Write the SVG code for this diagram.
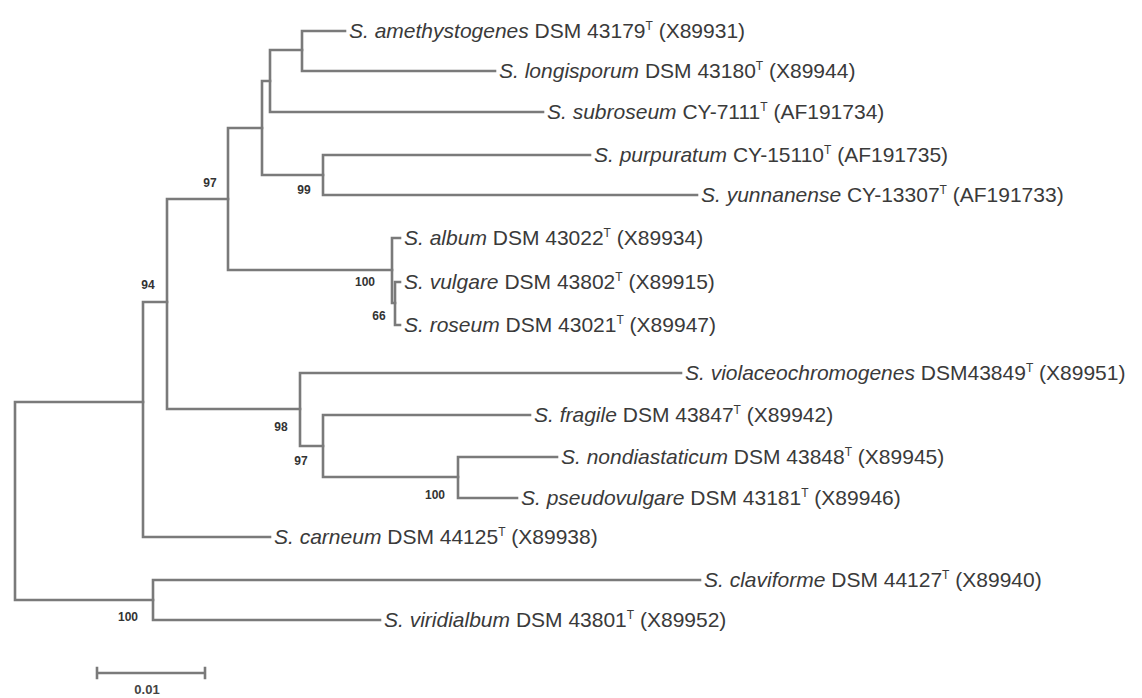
<svg xmlns="http://www.w3.org/2000/svg" width="1142" height="698" viewBox="0 0 1142 698">
<style>
  .br{fill:none;stroke:#7a7a7a;stroke-width:2.6;stroke-linecap:square}
  .lbl{font-family:"Liberation Sans",Arial,sans-serif;font-size:21px;fill:#3a3a3a}
  .sp{font-style:italic}
  .sup{font-size:12px}
  .bs{font-family:"Liberation Sans",Arial,sans-serif;font-size:12px;font-weight:bold;fill:#333;text-anchor:middle}
  .sc{font-family:"Liberation Sans",Arial,sans-serif;font-size:13px;font-weight:bold;fill:#444;text-anchor:middle}
</style>
<rect width="1142" height="698" fill="#fff"/>
<g id="connectors">
  <path class="br" d="M15,402 V600 M15,402 H143 M15,600 H153"/>
  <path class="br" d="M143,302 V537 M143,302 H167 M143,537 H270"/>
  <path class="br" d="M167,199 V409 M167,199 H228 M167,409 H300"/>
  <path class="br" d="M228,128 V270 M228,128 H262 M228,270 H392"/>
  <path class="br" d="M262,81 V175 M262,81 H270 M262,175 H323"/>
  <path class="br" d="M270,50 V112 M270,50 H302 M270,112 H543"/>
  <path class="br" d="M302,31 V71 M302,31 H345 M302,71 H495"/>
  <path class="br" d="M323,155 V195 M323,155 H590 M323,195 H697"/>
  <path class="br" d="M392,238 V303 M392,238 H400 M392,303 H395"/>
  <path class="br" d="M395,282 V325 M395,282 H400 M395,325 H400"/>
  <path class="br" d="M300,373 V446 M300,373 H681 M300,446 H323"/>
  <path class="br" d="M323,415 V477 M323,415 H530 M323,477 H458"/>
  <path class="br" d="M458,457 V498 M458,457 H557 M458,498 H517"/>
  <path class="br" d="M153,580 V620 M153,580 H700 M153,620 H380"/>
</g>
<g id="leaf-amethystogenes"><text class="lbl" x="349" y="38"><tspan class="sp">S. amethystogenes</tspan> DSM 43179<tspan class="sup" dy="-8">T</tspan><tspan dy="8"> (X89931)</tspan></text></g>
<g id="leaf-longisporum"><text class="lbl" x="499" y="78"><tspan class="sp">S. longisporum</tspan> DSM 43180<tspan class="sup" dy="-8">T</tspan><tspan dy="8"> (X89944)</tspan></text></g>
<g id="leaf-subroseum"><text class="lbl" x="547" y="119"><tspan class="sp">S. subroseum</tspan> CY-7111<tspan class="sup" dy="-8">T</tspan><tspan dy="8"> (AF191734)</tspan></text></g>
<g id="leaf-purpuratum"><text class="lbl" x="594" y="162"><tspan class="sp">S. purpuratum</tspan> CY-15110<tspan class="sup" dy="-8">T</tspan><tspan dy="8"> (AF191735)</tspan></text></g>
<g id="leaf-yunnanense"><text class="lbl" x="701" y="202"><tspan class="sp">S. yunnanense</tspan> CY-13307<tspan class="sup" dy="-8">T</tspan><tspan dy="8"> (AF191733)</tspan></text></g>
<g id="leaf-album"><text class="lbl" x="404" y="245"><tspan class="sp">S. album</tspan> DSM 43022<tspan class="sup" dy="-8">T</tspan><tspan dy="8"> (X89934)</tspan></text></g>
<g id="leaf-vulgare"><text class="lbl" x="404" y="289"><tspan class="sp">S. vulgare</tspan> DSM 43802<tspan class="sup" dy="-8">T</tspan><tspan dy="8"> (X89915)</tspan></text></g>
<g id="leaf-roseum"><text class="lbl" x="404" y="332"><tspan class="sp">S. roseum</tspan> DSM 43021<tspan class="sup" dy="-8">T</tspan><tspan dy="8"> (X89947)</tspan></text></g>
<g id="leaf-violaceochromogenes"><text class="lbl" x="685" y="380"><tspan class="sp">S. violaceochromogenes</tspan> DSM43849<tspan class="sup" dy="-8">T</tspan><tspan dy="8"> (X89951)</tspan></text></g>
<g id="leaf-fragile"><text class="lbl" x="534" y="422"><tspan class="sp">S. fragile</tspan> DSM 43847<tspan class="sup" dy="-8">T</tspan><tspan dy="8"> (X89942)</tspan></text></g>
<g id="leaf-nondiastaticum"><text class="lbl" x="561" y="464"><tspan class="sp">S. nondiastaticum</tspan> DSM 43848<tspan class="sup" dy="-8">T</tspan><tspan dy="8"> (X89945)</tspan></text></g>
<g id="leaf-pseudovulgare"><text class="lbl" x="521" y="505"><tspan class="sp">S. pseudovulgare</tspan> DSM 43181<tspan class="sup" dy="-8">T</tspan><tspan dy="8"> (X89946)</tspan></text></g>
<g id="leaf-carneum"><text class="lbl" x="274" y="544"><tspan class="sp">S. carneum</tspan> DSM 44125<tspan class="sup" dy="-8">T</tspan><tspan dy="8"> (X89938)</tspan></text></g>
<g id="leaf-claviforme"><text class="lbl" x="704" y="587"><tspan class="sp">S. claviforme</tspan> DSM 44127<tspan class="sup" dy="-8">T</tspan><tspan dy="8"> (X89940)</tspan></text></g>
<g id="leaf-viridialbum"><text class="lbl" x="384" y="627"><tspan class="sp">S. viridialbum</tspan> DSM 43801<tspan class="sup" dy="-8">T</tspan><tspan dy="8"> (X89952)</tspan></text></g>
<g id="bootstrap">
  <text class="bs" x="210" y="187">97</text>
  <text class="bs" x="148" y="289">94</text>
  <text class="bs" x="304" y="194">99</text>
  <text class="bs" x="365" y="286">100</text>
  <text class="bs" x="379" y="320">66</text>
  <text class="bs" x="281" y="431">98</text>
  <text class="bs" x="301" y="465">97</text>
  <text class="bs" x="435" y="499">100</text>
  <text class="bs" x="128" y="621">100</text>
</g>
<g id="scale-bar">
  <path class="br" d="M97,668 V678 M97,673 H205 M205,668 V678"/>
  <text class="sc" x="147" y="694">0.01</text>
</g>
</svg>
